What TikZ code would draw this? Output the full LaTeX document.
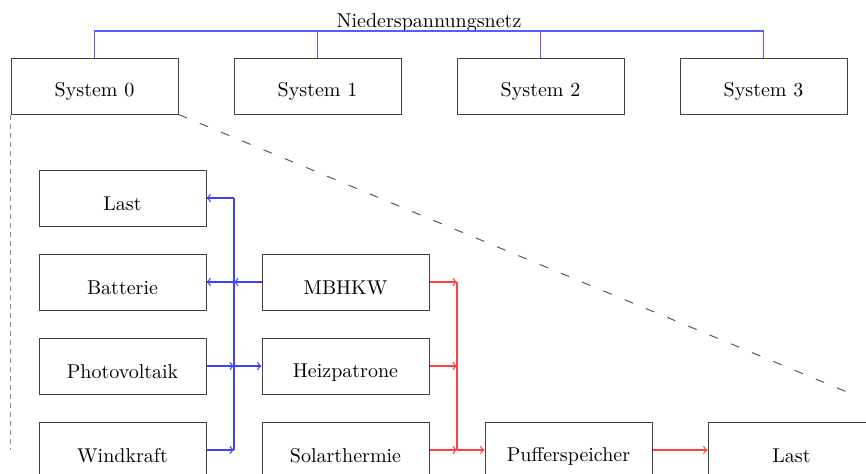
\documentclass[tikz,border=0pt]{standalone}
\usepackage{tikz}
\usetikzlibrary{calc}

\begin{document}
\begin{tikzpicture}[>= to, x=0.5pt, y=0.5pt, line width =0.5 pt,
			node distance=111.5pt,
			box/.style={draw=black!75, rectangle, minimum width=83.5pt, minimum height=28pt, inner sep=0pt, text height=13pt},
			netz/.style={blue!65, line width=0.6pt},
			strom/.style={blue!75, line width=0.6pt},
			waerme/.style={red!75, line width=0.6pt}]
		\useasboundingbox (0,0) rectangle (866,-473);

		\node [anchor=base] at (429,-27) (nsn) {Niederspannungsnetz};
		\node [box] at (94.5,-86) (sys0) {System 0};
		\node [box, right of=sys0] (sys1) {System 1};
		\node [box, right of=sys1] (sys2) {System 2};
		\node [box, right of=sys2] (sys3) {System 3};

		\coordinate (bus) at (429,-31);
		\draw [netz] (sys0.north) |- (bus) -| (sys3.north);
		\draw [netz] (sys1.north) -- (sys1.north |- bus);
		\draw [netz] (sys2.north) -- (sys2.north |- bus);

		\node [box] at (122.5,-198) (last) {Last};
		\node [box, below of=last, node distance=42pt] (batt) {Batterie};
		\node [box, below of=batt, node distance=42pt] (pv) {Photovoltaik};
		\node [box, below of=pv, node distance=42pt] (wind) {Windkraft};
		\node [box, right of=batt] (mbhkw) {MBHKW};
		\node [box, right of=pv] (heiz) {Heizpatrone};
		\node [box, right of=wind] (solar) {Solarthermie};
		\node [box, right of=solar] (puffer) {Pufferspeicher};
		\node [box, right of=puffer] (last2) {Last};

		\coordinate (sb) at ($(wind.east)!0.5!(solar.west)$);
		\coordinate (wb) at ($(solar.east)!0.5!(puffer.west)$);

		\draw [strom] (sb |- last) -- (sb);
		\draw [strom, ->] (sb |- last) -- (last.east);
		\draw [strom, ->] (mbhkw.west) -- (sb |- mbhkw);
		\draw [strom, ->] (sb |- batt) -- (batt.east);
		\draw [strom, ->] (pv.east) -- (sb |- pv);
		\draw [strom, ->] (sb |- pv) -- (heiz.west);
		\draw [strom, ->] (wind.east) -- (sb);

		\draw [waerme] (wb |- mbhkw) -- (wb);
		\draw [waerme, ->] (mbhkw.east) -- (wb |- mbhkw);
		\draw [waerme, ->] (heiz.east) -- (wb |- heiz);
		\draw [waerme, ->] (solar.east) -- (wb);
		\draw [waerme, ->] (wb) -- (puffer.west);
		\draw [waerme, ->] (puffer) -- (last2);

		\coordinate (lupe1) at (11,-450);
		\coordinate (lupe2) at (847,-392);
		\draw [black!45, dash pattern=on 2.5pt off 2pt] (sys0.south west) -- (sys0.south west |- lupe1);
		\draw [black!65, dash pattern=on 4.5pt off 7pt] (sys0.south east) -- (lupe2);
	\end{tikzpicture}
\end{document}
